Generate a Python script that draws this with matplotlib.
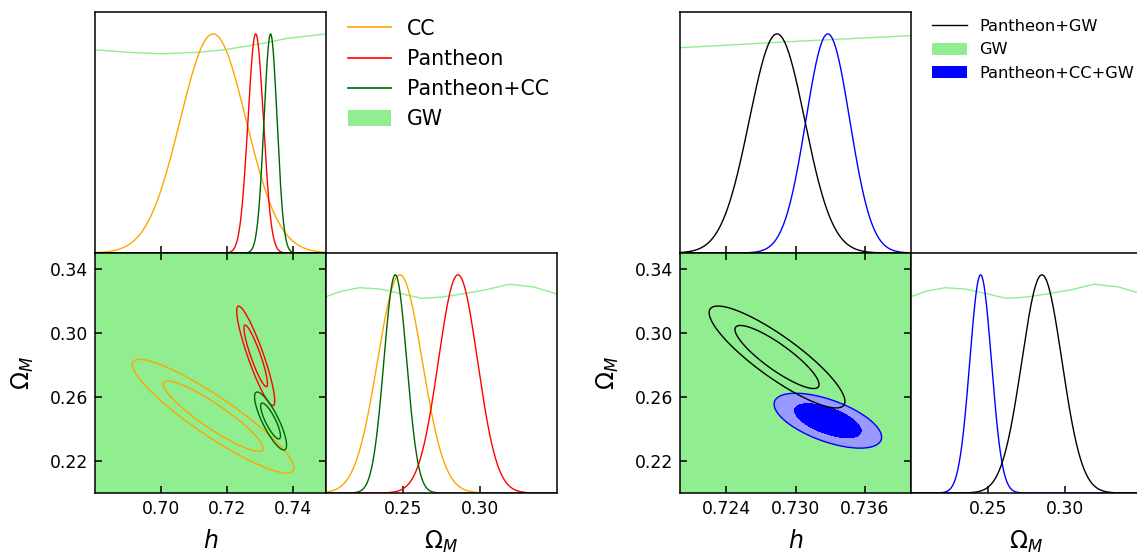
import numpy as np
import matplotlib
matplotlib.use('Agg')
import matplotlib.pyplot as plt
from matplotlib.lines import Line2D
from matplotlib.patches import Patch

W, H = 1137, 556

# gaussian summaries of the posteriors: mean h, sigma h, mean Om, sigma Om, corr
cc = [0.7158, 0.0100, 0.2480, 0.0145, -0.91]
pantheon = [0.7287, 0.00235, 0.2857, 0.0127, -0.90]
pantheon_cc = [0.7332, 0.00198, 0.2450, 0.0074, -0.83]
pantheon_gw = [0.7284, 0.0024, 0.2850, 0.0130, -0.87]
pantheon_cc_gw = [0.7328, 0.0019, 0.2452, 0.0070, -0.60]

# GW alone is almost flat over the prior range
gw_h_left = [0.680, 0.690, 0.700, 0.711, 0.719, 0.731, 0.738, 0.750]
gw_p_h_left = [0.927, 0.916, 0.909, 0.916, 0.927, 0.957, 0.979, 1.000]
gw_h_right = [0.720, 0.730, 0.740]
gw_p_h_right = [0.937, 0.966, 0.992]
gw_om = [0.200, 0.210, 0.222, 0.235, 0.248, 0.262, 0.275, 0.287, 0.303, 0.319, 0.335, 0.350]
gw_p_om = [0.900, 0.925, 0.941, 0.935, 0.915, 0.892, 0.898, 0.911, 0.930, 0.957, 0.944, 0.912]

h_lim_left = (0.68, 0.75)
h_lim_right = (0.72, 0.74)
om_lim = (0.20, 0.35)
h_ticks_left = [0.70, 0.72, 0.74]
h_ticks_right = [0.724, 0.730, 0.736]
om_ticks_2d = [0.22, 0.26, 0.30, 0.34]
om_ticks_1d = [0.25, 0.30]

chi2_levels = [2.30, 6.0]

GW_COL = '#90ee90'


def box(x0, y0, x1, y1):
  return [x0 / W, 1 - y1 / H, (x1 - x0) / W, (y1 - y0) / H]


def gauss(x, mu, sig):
  return np.exp(-0.5 * ((x - mu) / sig) ** 2)


def chi2(p, hh, oo):
  dx = (hh - p[0]) / p[1]
  dy = (oo - p[2]) / p[3]
  r = p[4]
  return (dx * dx - 2 * r * dx * dy + dy * dy) / (1 - r * r)


def style(ax, lw=1.1):
  for s in ax.spines.values():
    s.set_linewidth(lw)
  ax.tick_params(direction='in', length=5, width=1.1, labelsize=12.4, pad=5)


plt.rcParams['font.family'] = 'DejaVu Sans'
plt.rcParams['mathtext.fontset'] = 'dejavusans'

fig = plt.figure(figsize=(W / 100, H / 100), dpi=100)

panels = [
  dict(x0=95, hlim=h_lim_left, hticks=h_ticks_left, fmt='%.2f',
       gw_h=(gw_h_left, gw_p_h_left),
       lines=[(cc, 'orange'), (pantheon, 'red'), (pantheon_cc, 'darkgreen')],
       filled=None),
  dict(x0=680, hlim=h_lim_right, hticks=h_ticks_right, fmt='%.3f',
       gw_h=(gw_h_right, gw_p_h_right),
       lines=[(pantheon_gw, 'black')],
       filled=(pantheon_cc_gw, 'blue', '#9999ff')),
]

for P in panels:
  x0 = P['x0']
  x1 = x0 + 231
  x2 = x1 + 231
  ax_h = fig.add_axes(box(x0, 12, x1, 253))
  ax_2d = fig.add_axes(box(x0, 253, x1, 493))
  ax_om = fig.add_axes(box(x1, 253, x2, 493))

  hs = np.linspace(P['hlim'][0], P['hlim'][1], 500)
  oms = np.linspace(om_lim[0], om_lim[1], 500)

  # 1D marginal in h
  ax_h.plot(P['gw_h'][0], P['gw_h'][1], color=GW_COL, lw=1.0)
  if P['filled'] is not None:
    f = P['filled'][0]
    ax_h.plot(hs, gauss(hs, f[0], f[1]), color=P['filled'][1], lw=1.0)
  for p, c in P['lines']:
    ax_h.plot(hs, gauss(hs, p[0], p[1]), color=c, lw=1.0)
  ax_h.set_xlim(P['hlim'])
  ax_h.set_ylim(0, 1.1)
  ax_h.set_xticks(P['hticks'])
  ax_h.set_yticks([])
  style(ax_h)
  ax_h.tick_params(labelbottom=False)

  # 2D contours, GW covers the whole plane
  ax_2d.set_facecolor(GW_COL)
  hh, oo = np.meshgrid(hs, oms)
  if P['filled'] is not None:
    f, c_in, c_out = P['filled']
    z = chi2(f, hh, oo)
    ax_2d.contourf(hh, oo, z, levels=[-1, chi2_levels[1]], colors=[c_out])
    ax_2d.contourf(hh, oo, z, levels=[-1, chi2_levels[0]], colors=[c_in])
    ax_2d.contour(hh, oo, z, levels=[chi2_levels[1]], colors=[c_in], linewidths=1.0)
  for p, c in P['lines']:
    ax_2d.contour(hh, oo, chi2(p, hh, oo), levels=chi2_levels, colors=[c], linewidths=1.0)
  ax_2d.set_xlim(P['hlim'])
  ax_2d.set_ylim(om_lim)
  ax_2d.set_xticks(P['hticks'])
  ax_2d.set_xticklabels([P['fmt'] % t for t in P['hticks']])
  ax_2d.set_yticks(om_ticks_2d)
  ax_2d.set_yticklabels(['%.2f' % t for t in om_ticks_2d])
  style(ax_2d)
  ax_2d.tick_params(top=True, right=True)
  ax_2d.set_xlabel('$h$', fontsize=17, labelpad=8)
  ax_2d.set_ylabel(r'$\Omega_M$', fontsize=17, labelpad=10)

  # 1D marginal in Omega_M
  ax_om.plot(gw_om, gw_p_om, color=GW_COL, lw=1.0)
  if P['filled'] is not None:
    f = P['filled'][0]
    ax_om.plot(oms, gauss(oms, f[2], f[3]), color=P['filled'][1], lw=1.0)
  for p, c in P['lines']:
    ax_om.plot(oms, gauss(oms, p[2], p[3]), color=c, lw=1.0)
  ax_om.set_xlim(om_lim)
  ax_om.set_ylim(0, 1.1)
  ax_om.set_xticks(om_ticks_1d)
  ax_om.set_xticklabels(['%.2f' % t for t in om_ticks_1d])
  ax_om.set_yticks([])
  style(ax_om)
  ax_om.set_xlabel(r'$\Omega_M$', fontsize=17, labelpad=8)

left_handles = [
  Line2D([], [], color='orange', lw=1.2),
  Line2D([], [], color='red', lw=1.2),
  Line2D([], [], color='darkgreen', lw=1.2),
  Patch(facecolor=GW_COL, edgecolor='none'),
]
fig.legend(left_handles, ['CC', 'Pantheon', 'Pantheon+CC', 'GW'],
           loc='upper left', bbox_to_anchor=(348 / W, 1 - 19 / H),
           frameon=False, fontsize=14.8, borderpad=0, borderaxespad=0,
           handlelength=2.09, handleheight=0.8, handletextpad=0.78,
           labelspacing=0.49)

right_handles = [
  Line2D([], [], color='black', lw=1.0),
  Patch(facecolor=GW_COL, edgecolor='none'),
  Patch(facecolor='blue', edgecolor='none'),
]
fig.legend(right_handles, ['Pantheon+GW', 'GW', 'Pantheon+CC+GW'],
           loc='upper left', bbox_to_anchor=(932 / W, 1 - 19 / H),
           frameon=False, fontsize=11.7, borderpad=0, borderaxespad=0,
           handlelength=2.15, handleheight=0.8, handletextpad=0.75,
           labelspacing=0.52)

fig.savefig('out.png', dpi=100)
